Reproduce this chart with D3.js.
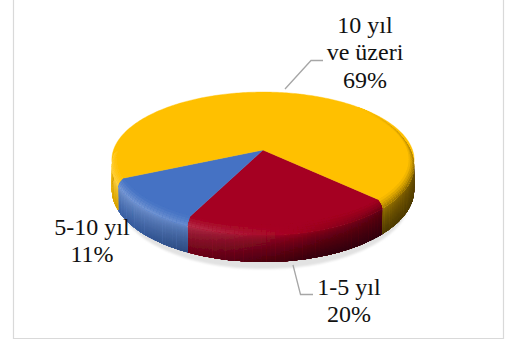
<!DOCTYPE html>
<html><head><meta charset="utf-8">
<script src="https://cdn.jsdelivr.net/npm/d3@7"></script>
<style>html,body{margin:0;padding:0;background:#fff}svg{display:block}</style>
</head><body><div id="c"></div>
<script>
const categories = ["1-5 yıl", "5-10 yıl", "10 yıl ve üzeri"];
const values = [20, 11, 69];
const colors = ["#A50021", "#4472C4", "#FFC000"];
const labelLines = [["1-5 yıl", "20%"], ["5-10 yıl", "11%"], ["10 yıl", "ve üzeri", "69%"]];

const W = 507, H = 343, rad = Math.PI / 180;
const svg = d3.select("#c").append("svg").attr("width", W).attr("height", H);
const defs = svg.append("defs");
defs.append("filter").attr("id", "soft").attr("x", "-5%").attr("y", "-5%").attr("width", "110%").attr("height", "110%")
  .append("feGaussianBlur").attr("stdDeviation", 0.6);
defs.append("filter").attr("id", "shadow").attr("x", "-5%").attr("y", "-5%").attr("width", "110%").attr("height", "110%")
  .append("feGaussianBlur").attr("stdDeviation", 0.9);

// chart frame
svg.append("path").attr("d", "M13.5,0V338.5H503.5V0").attr("fill", "none").attr("stroke", "#d9d9d9").attr("stroke-width", 1.2);

// perspective pie geometry
const cx = 263, cy = 150, R = 149.5, Ry = 66.5, persp = 0.147, depth = 29, rimU = 0.2;
const smooth = (e0, e1, x) => { const t = Math.max(0, Math.min(1, (x - e0) / (e1 - e0))); return t * t * (3 - 2 * t); };
const degOf = a => { const d = Math.atan2(Math.sin(a), Math.cos(a)) / rad; return d < -90 ? d + 360 : d; };
function project(a, r, z) {
  const s = Math.sin(a), c = Math.cos(a), w = 1 / (1 - persp * r * s);
  return [cx + R * r * c * w, cy + Ry * r * s * w + z * w];
}
const pie = d3.pie().sort(null).value(d => d).startAngle(134 * rad).endAngle((134 + 360) * rad);
const arcs = pie(values).map((d, i) => ({ i, a0: d.startAngle - Math.PI / 2, a1: d.endAngle - Math.PI / 2 }));
const line = d3.line();

function sectorPts(d, z) {
  const n = Math.ceil((d.a1 - d.a0) / rad);
  const pts = [project(0, 0, z)];
  d3.range(n + 1).forEach(k => pts.push(project(d.a0 + (d.a1 - d.a0) * k / n, 1, z)));
  return pts;
}

function wallColor(base, a, u) {
  const deg = degOf(a);
  const light = 0.5 + 0.5 * Math.cos(a - 170 * rad);
  const peak = light > 0.5
    ? d3.interpolateRgb(base, "#ffffff")((light - 0.5) * 2 * 0.32)
    : d3.interpolateRgb(base, "#000000")((0.5 - light) * 2 * 0.6);
  const bottom = d3.interpolateRgb(base, "#000000")(Math.min(0.7, 0.15 + 0.95 * (1 - light)));
  const col = u < rimU ? d3.interpolateRgb(base, peak)(u / rimU)
                       : d3.interpolateRgb(peak, bottom)(Math.pow((u - rimU) / (1 - rimU), 0.6));
  const f = deg < 0 ? smooth(-45, 0, deg) : 1;
  return d3.interpolateRgb(base, col)(f);
}

// ground shadow, only its front part shows under the pie
const shadow = svg.append("g").attr("filter", "url(#shadow)");
shadow.append("path")
  .attr("d", line(d3.range(0, 361, 2).map(t => { const p = project(t * rad, 0.965, depth + 9); return [p[0] + 1, p[1]]; })) + "Z")
  .attr("fill", "#e2e2e2");

const pieG = svg.append("g").attr("filter", "url(#soft)");
const rOf = u => u < rimU ? 0.965 + 0.035 * Math.sin(u / rimU * Math.PI / 2) : 1;
const zOf = (u, a) => { const d = degOf(a); return u * depth * (d < 0 ? smooth(-45, 0, d) : 1); };

// every cell runs down to the foot of its band list, so the next cell overpaints it without seams
function wall(g, bands, minA, maxA) {
  const uEnd = bands[bands.length - 1][1];
  arcs.forEach(d => {
    const step = 1.5 * rad;
    for (let a = d.a0; a < d.a1 - 1e-6; a += step) {
      const b = Math.min(a + step * 1.5, d.a1);
      const nd = degOf(a + step / 2) * rad;
      if (nd < minA || nd > maxA) continue;
      bands.forEach(([u0, u1]) => {
        const us = d3.range(0, 5).map(k => u0 + (uEnd - u0) * k / 4);
        const p = us.map(u => project(a, rOf(u), zOf(u, a)))
          .concat(us.slice().reverse().map(u => project(b, rOf(u), zOf(u, b))));
        g.append("path").attr("d", line(p) + "Z").attr("fill", wallColor(colors[d.i], a + step / 2, (u0 + u1) / 2));
      });
    }
  });
}
const bands = d3.range(0, 24).map(k => [k / 24, (k + 1) / 24]);
const lower = bands.filter(b => b[0] >= rimU - 1e-6);
const upper = bands.filter(b => b[0] < rimU - 1e-6);

// wall below the rim
wall(pieG, lower, 0, 190 * rad);
// top face
arcs.forEach(d => {
  pieG.append("path").attr("d", line(sectorPts(d, 0)) + "Z").attr("fill", colors[d.i])
    .attr("stroke", colors[d.i]).attr("stroke-width", 0.4);
});
// bevel rim over the face
wall(pieG, upper, -45 * rad, 180 * rad);

// leader lines
const leaders = [
  [[285, 89], [311, 60.5], [323, 60.5]],
  [[293, 265], [300.5, 294.5], [313, 294.5]]
];
leaders.forEach(l => svg.append("path").attr("d", line(l)).attr("fill", "none").attr("stroke", "#a6a6a6").attr("stroke-width", 1.3));

// labels
const labelPos = [[349, 295], [92, 235], [365, 33]];
labelLines.forEach((lines, i) => {
  const t = svg.append("text").attr("text-anchor", "middle")
    .attr("font-family", "'Liberation Serif','Times New Roman',serif").attr("font-size", 24).attr("fill", "#111");
  lines.forEach((s, k) => t.append("tspan").attr("x", labelPos[i][0]).attr("y", labelPos[i][1] + k * 27.4).text(s));
});
</script></body></html>
